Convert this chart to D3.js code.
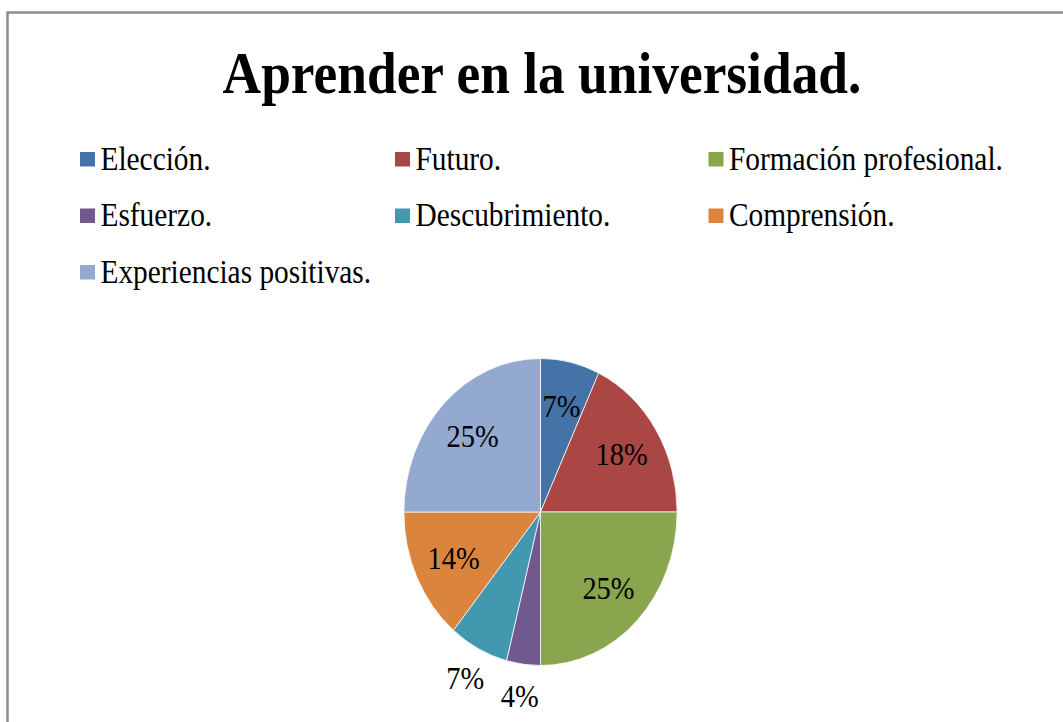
<!DOCTYPE html>
<html lang="es">
<head>
    <meta charset="UTF-8">
    <title>Aprender en la universidad.</title>
    <script src="https://cdn.jsdelivr.net/npm/d3@7"></script>
    <style>
        body { margin: 0; background: #fff; }
    </style>
</head>
<body>
<div id="chart"></div>
<script>
    // Data
    var categories = ["Elección.", "Futuro.", "Formación profesional.", "Esfuerzo.",
                      "Descubrimiento.", "Comprensión.", "Experiencias positivas."];
    var values = [7, 18, 25, 4, 7, 14, 25];
    var labelPlace = ["in", "in", "in", "out", "out", "in", "in"];
    var colors = ["#4572A7", "#AA4643", "#89A54E", "#71588F", "#4198AF", "#DB843D", "#93A9CF"];
    var title = "Aprender en la universidad.";

    // Size
    var w = 1063, h = 722;
    var sx = 0.89; // the picture is squeezed horizontally
    var serif = "'Liberation Serif', 'Times New Roman', Times, 'DejaVu Serif', serif";

    var svg = d3.select("#chart").append("svg")
        .attr("width", w)
        .attr("height", h);

    // chart border (runs off the right and bottom edge)
    svg.append("rect")
        .attr("x", 7.5)
        .attr("y", 12.5)
        .attr("width", 1200)
        .attr("height", 900)
        .attr("fill", "none")
        .attr("stroke", "#8c8c8c")
        .attr("stroke-width", 2.5);

    // everything else goes in a squeezed group, x positions given in screen px / sx
    var g = svg.append("g")
        .attr("transform", "scale(" + sx + ",1)");

    // Title
    g.append("text")
        .attr("x", 542 / sx)
        .attr("y", 93)
        .attr("text-anchor", "middle")
        .style("font-family", serif)
        .style("font-size", "60px")
        .style("font-weight", "bold")
        .text(title);

    // Legend
    var colX = [80, 395, 708.5];
    var rowY = [169.5, 226, 282.5];
    var legend = g.selectAll(".legend")
        .data(categories)
        .enter()
        .append("g")
        .attr("class", "legend")
        .attr("transform", function(d, i) {
            return "translate(" + (colX[i % 3] / sx) + "," + rowY[Math.floor(i / 3)] + ")";
        });

    legend.append("rect")
        .attr("x", 0)
        .attr("y", -17.5)
        .attr("width", 15 / sx)
        .attr("height", 14.5)
        .attr("fill", function(d, i) { return colors[i]; });

    legend.append("text")
        .attr("x", 20.5 / sx)
        .attr("y", 0)
        .style("font-family", serif)
        .style("font-weight", "normal")
        .style("font-size", "33px")
        .text(function(d) { return d; });

    // Pie
    var cx = 540.5, cy = 512, r = 153.5;
    var pie = d3.pie().sort(null).value(function(d) { return d; });
    var arc = d3.arc().innerRadius(0).outerRadius(r);
    var arcIn = d3.arc().innerRadius(108).outerRadius(108);
    var arcOut = d3.arc().innerRadius(186).outerRadius(186);
    var total = d3.sum(values);

    var pg = g.append("g")
        .attr("transform", "translate(" + (cx / sx) + "," + cy + ")");

    pg.selectAll("path")
        .data(pie(values))
        .enter()
        .append("path")
        .attr("d", arc)
        .attr("fill", function(d, i) { return colors[i]; })
        .attr("stroke", "#ffffff")
        .attr("stroke-width", 0.8);

    pg.selectAll(".pct")
        .data(pie(values))
        .enter()
        .append("text")
        .attr("class", "pct")
        .attr("transform", function(d, i) {
            var c = labelPlace[i] == "in" ? arcIn.centroid(d) : arcOut.centroid(d);
            return "translate(" + c[0] + "," + c[1] + ")";
        })
        .attr("text-anchor", "middle")
        .attr("dy", "0.34em")
        .style("font-family", serif)
        .style("font-weight", "normal")
        .style("font-size", "32px")
        .text(function(d) { return Math.round(d.value / total * 100) + "%"; });
</script>
</body>
</html>
